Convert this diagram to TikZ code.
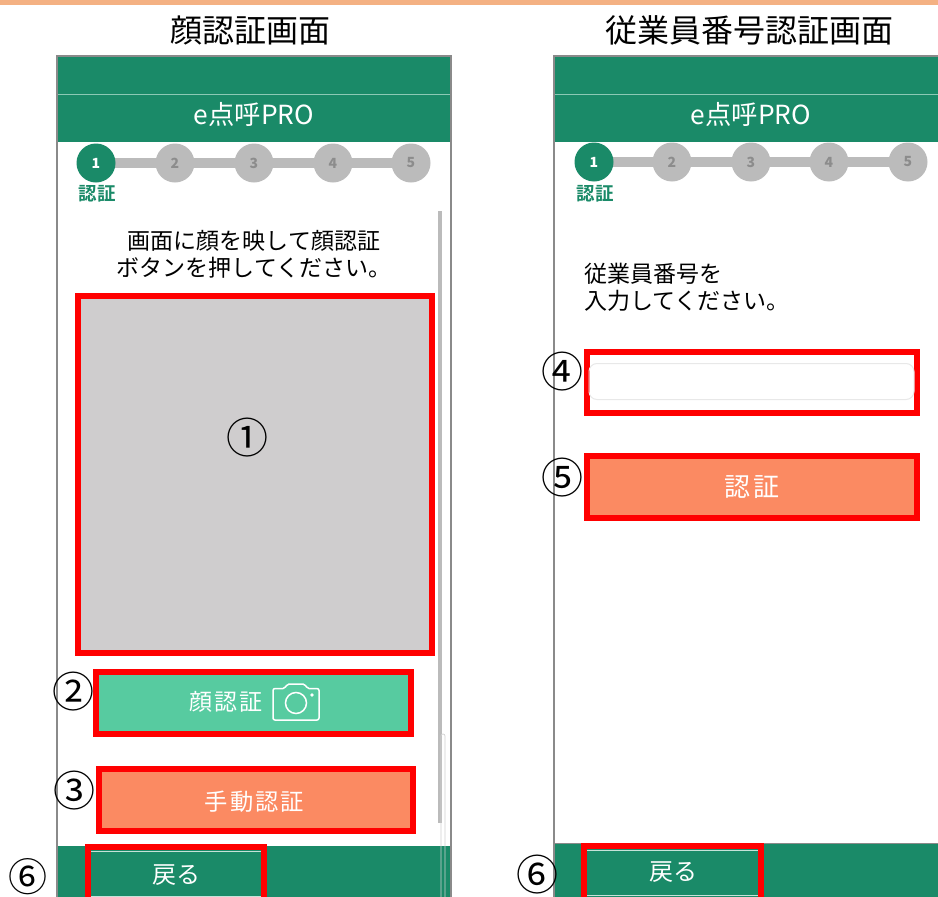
\documentclass[tikz,border=0pt]{standalone}
\usepackage{fontspec}
\setmainfont{Noto Sans CJK JP}
\newfontfamily\spaced[LetterSpace=9]{Noto Sans CJK JP}
\newfontfamily\boldjp{Noto Sans CJK JP Bold}
\definecolor{hdr}{HTML}{1A8A68}
\definecolor{frm}{HTML}{8A8A8A}
\definecolor{stp}{HTML}{BBBBBB}
\definecolor{sgn}{HTML}{8C8C8C}
\definecolor{tone}{HTML}{F4B183}
\definecolor{facebtn}{HTML}{57CBA0}
\definecolor{manbtn}{HTML}{FB8A62}
\definecolor{camgray}{HTML}{CFCDCE}
\definecolor{rl}{HTML}{FF0000}
\definecolor{hairline}{HTML}{8CC9B5}
\definecolor{inputedge}{HTML}{E8E8E8}
\tikzset{
  txt/.style={inner sep=0pt,outer sep=0pt,align=center,text=black},
  ttl/.style={txt,font=\fontsize{32}{32}\selectfont},
  body/.style={txt,font=\fontsize{23}{28}\selectfont},
  hd/.style={txt,text=white,font=\fontsize{26.3}{26}\selectfont},
  cnum/.style={txt,font=\fontsize{42}{42}\selectfont},
  stepdone/.style={circle,inner sep=0pt,outer sep=0pt,minimum size=39pt,fill=hdr,text=white,font=\fontsize{14}{14}\selectfont\bfseries},
  steptodo/.style={circle,inner sep=0pt,outer sep=0pt,minimum size=39pt,fill=stp,text=sgn,font=\fontsize{14}{14}\selectfont\bfseries},
  steplab/.style={txt,text=hdr,font=\fontsize{18.5}{18.5}\selectfont\boldjp},
  redbox/.style={draw=rl,line width=6pt,inner sep=0pt,outer sep=0pt,text=white},
}
\begin{document}
\begin{tikzpicture}[x=1pt,y=-1pt]
\useasboundingbox (0,0) rectangle (938,897);
\fill[white] (0,0) rectangle (938,897);
\fill[tone] (0,0) rectangle (938,5);
% titles
\node[ttl] (t1) at (250,30) {顔認証画面};
\node[ttl] (t2) at (749,30) {従業員番号認証画面};
% left phone
\fill[hdr] (57,56) rectangle (451,142);
\draw[hairline,line width=1pt] (57,94.5) -- (451,94.5);
\fill[hdr] (57,846) rectangle (451,897);
\draw[frm,line width=2pt] (57,897) -- (57,56) -- (451,56) -- (451,897);
\node[hd] (h1) at (254,114) {e点呼PRO};
\draw[stp,line width=10pt] (96,163) -- (411,163);
\node[stepdone] (a1) at (96,163) {1};
\node[steptodo] (a2) at (175,163) {2};
\node[steptodo] (a3) at (254,163) {3};
\node[steptodo] (a4) at (333,163) {4};
\node[steptodo] (a5) at (411,163) {5};
\node[steplab] (al) at (97,194) {認証};
\fill[stp] (438,211) rectangle (441.5,823);
\draw[black!18,line width=.7pt,rounded corners=2pt] (441,897) -- (441,734) -- (445,734) -- (445,897);
\node[body] (m1) at (254,254.5) {画面に顔を映して顔認証\\[-1pt]ボタンを押してください。};
\node[redbox,fill=camgray,minimum width=354pt,minimum height=357pt] (b1) at (255,474.5) {};
\node[redbox,fill=facebtn,minimum width=315pt,minimum height=62pt] (b2) at (253.5,703) {};
\node[txt,text=white,font=\fontsize{23}{23}\selectfont\spaced] (b2t) at (226,702) {顔認証};
\draw[white,line width=1.5pt,rounded corners=2pt] (273,688.5) -- (285,688.5) -- (287,684) -- (305,684) -- (307,688.5) -- (319,688.5) -- (319,720) -- (273,720) -- cycle;
\draw[white,line width=1.5pt] (296,703) circle (10.5pt);
\fill[white] (312,695) circle (1.8pt);
\node[redbox,fill=manbtn,minimum width=314pt,minimum height=62pt] (b3) at (256,800) {};
\node[txt,text=white,font=\fontsize{23.3}{23.3}\selectfont\spaced] (b3t) at (254.5,802) {手動認証};
\node[cnum] (n1) at (247,438) {①};
\node[cnum] (n2) at (73,692) {②};
\node[cnum] (n3) at (74,791) {③};
\node[cnum,font=\fontsize{39}{39}\selectfont] (n6a) at (28,876.5) {⑥};
\draw[white!75!hdr,line width=1pt] (91,851) -- (261,851);
\draw[white!75!hdr,line width=1pt] (91,896) -- (261,896);
\node[txt,text=white,font=\fontsize{24}{24}\selectfont] (b6a) at (176,875) {戻る};
\draw[rl,line width=6pt] (88,897) -- (88,847) -- (264,847) -- (264,897);
% right phone
\fill[hdr] (555,56) rectangle (938,142);
\draw[hairline,line width=1pt] (555,94.5) -- (938,94.5);
\fill[hdr] (555,843) rectangle (938,897);
\draw[frm,line width=2pt] (554,897) -- (554,56) -- (938,56);
\draw[frm,line width=.7pt] (554,843) -- (938,843);
\node[hd] (h2) at (751,114) {e点呼PRO};
\draw[stp,line width=10pt] (594,162) -- (908,162);
\node[stepdone] (c1) at (594,162) {1};
\node[steptodo] (c2) at (672,162) {2};
\node[steptodo] (c3) at (751,162) {3};
\node[steptodo] (c4) at (829,162) {4};
\node[steptodo] (c5) at (908,162) {5};
\node[steplab] (cl) at (595,194) {認証};
\node[body,align=left,anchor=west] (m2) at (584,287) {従業員番号を\\[-1pt]入力してください。};
\node[redbox,minimum width=330pt,minimum height=61pt] (b4) at (752,382.5) {};
\draw[inputedge,line width=1pt,rounded corners=8pt] (589,363.5) rectangle (914,399.5);
\node[redbox,fill=manbtn,minimum width=330pt,minimum height=62pt,font=\fontsize{26}{26}\selectfont\spaced] (b5) at (752,487) {認証};
\node[cnum] (n4) at (562,372) {④};
\node[cnum] (n5) at (562,478) {⑤};
\node[cnum] (n6b) at (537,875) {⑥};
\draw[white!75!hdr,line width=1pt] (587,850) -- (758,850);
\draw[white!75!hdr,line width=1pt] (587,895) -- (758,895);
\node[txt,text=white,font=\fontsize{24}{24}\selectfont] (b6b) at (673,872) {戻る};
\draw[rl,line width=6pt] (584,897) -- (584,846) -- (761,846) -- (761,897);
\end{tikzpicture}
\end{document}
